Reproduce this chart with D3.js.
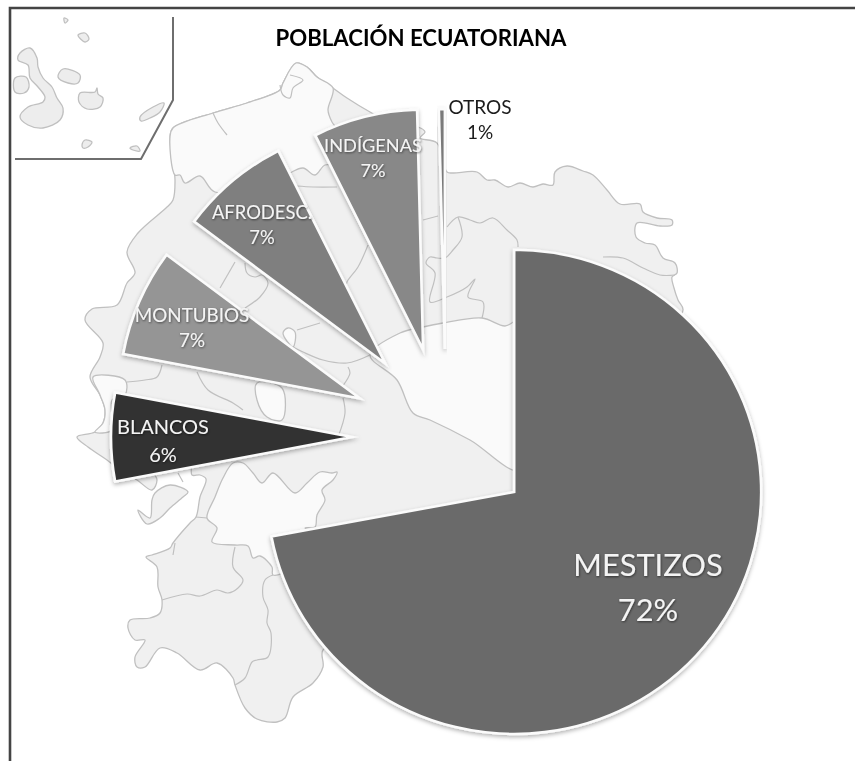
<!DOCTYPE html>
<html><head><meta charset="utf-8">
<script src="https://cdn.jsdelivr.net/npm/d3@7/dist/d3.min.js"></script>
<style>html,body{margin:0;padding:0;background:#fff}svg{display:block}text{font-family:Lato,"Open Sans",sans-serif}</style>
</head><body><svg id="c" width="855" height="761"></svg>
<script>
// ---- chart data ----
const categories = ["MESTIZOS","BLANCOS","MONTUBIOS","AFRODESC.","INDÍGENAS","OTROS"];
const shares     = [71.9, 5.9, 7.2, 7.4, 7.0, 0.4];   // slice sizes as drawn
const percentLabels = ["72%","6%","7%","7%","7%","1%"];
const sliceColors = ["#6b6b6b","#333333","#959595","#7f7f7f","#888888","#7a7a7a"];
const titleText = "POBLACIÓN ECUATORIANA";

// ---- layout of the exploded pie ----
const pieCenter = [448,437];
const explode = [86,96,96,96,90,88];
const nudgeX  = [0,0,0,-1,-3,-2];
const radii   = [247,241,241,238,240,240];
const labelAnchors = [[648,565,610,30.8],[163,427,455,20],[192,315,340,18.8],[262,213,238,18.4],[373,146,171,18.2],[480,107,132,19]];

// ---- backdrop map outlines ----
const mainland=[[296,63],[307,67],[317,77],[333,88],[347,98],[370,112],[395,125],[418,127],[425,132],[420,138],[437,143],[447,172],[453,173],[477,172],[487,180],[495,180],[508,187],[520,183],[533,187],[543,184],[553,185],[555,172],[567,166],[583,171],[593,175],[607,190],[620,204],[640,204],[643,212],[657,218],[672,220],[672,225],[660,226],[637,223],[636,237],[645,243],[655,245],[663,258],[675,263],[677,273],[672,277],[674,288],[678,300],[683,310],[660,340],[600,400],[500,600],[360,640],[323,650],[323,667],[313,683],[293,697],[285,718],[277,722],[257,719],[245,708],[235,685],[233,678],[217,663],[200,670],[177,653],[160,648],[145,667],[137,667],[135,657],[145,640],[135,640],[128,628],[130,620],[150,618],[160,613],[162,600],[158,587],[157,567],[146,557],[152,555],[170,548],[173,543],[190,523],[196,517],[200,497],[206,479],[200,475],[192,475],[190,460],[150,465],[157,480],[152,490],[137,480],[120,470],[107,460],[88,447],[77,437],[95,432],[103,423],[105,410],[100,395],[90,377],[100,357],[103,343],[85,320],[92,309],[117,305],[127,283],[135,273],[127,252],[138,233],[167,207],[173,200],[175,180],[170,137],[173,128],[213,113],[247,103],[280,90],[283,83]];
const lightNorth=[[170,137],[173,128],[213,113],[247,103],[280,90],[283,83],[296,63],[307,67],[317,77],[333,88],[328,110],[332,122],[345,140],[340,165],[325,165],[315,175],[303,168],[290,173],[270,185],[215,192],[200,176],[185,183],[180,175],[175,175]];
const lightCentre=[[370,355],[400,333],[423,327],[443,323],[482,318],[505,326],[520,320],[520,470],[470,440],[430,420],[413,413],[397,380]];
const lightSouth=[[233,463],[243,463],[253,473],[262,483],[273,473],[295,493],[307,483],[320,472],[332,473],[337,472],[333,480],[322,490],[325,500],[317,515],[315,527],[305,528],[330,540],[300,565],[273,575],[272,567],[260,556],[253,558],[248,546],[235,545],[212,542],[217,528],[207,518],[215,497],[223,478]];
const lightWest=[[93,377],[125,380],[125,395],[112,400],[112,430],[95,432],[103,423],[105,410],[100,395]];
const lightPatch=[[257,383],[282,388],[282,420],[267,417],[257,400]];
const lightPatch2=[[283,333],[288,328],[295,332],[293,347]];
const punaIsland=[[188,492],[170,485],[155,493],[152,500],[150,518],[138,510],[147,524],[160,518],[170,508],[183,497]];
const borderLines=[
 [[213,113],[218,123],[227,135]],
 [[297,186],[313,187],[337,187]],
 [[368,245],[358,267],[347,282],[345,290]],
 [[220,288],[235,262]],
 [[245,263],[247,273],[255,277],[262,275],[268,283],[260,297],[245,308]],
 [[297,330],[320,323]],
 [[293,347],[303,352],[323,360],[347,363],[370,355]],
 [[348,367],[350,373],[342,387]],
 [[162,365],[157,377],[145,380],[127,382]],
 [[197,372],[208,390],[233,403],[243,410]],
 [[343,398],[345,413],[338,437]],
 [[423,220],[438,216]],
 [[447,227],[458,217],[470,220],[480,223],[493,218],[507,230],[517,240],[518,247]],
 [[458,217],[462,237],[453,250],[445,258],[437,258],[430,257],[426,263],[435,273],[430,302],[447,297],[467,287],[475,279],[468,297],[483,302],[482,318]],
 [[603,257],[623,258],[643,268],[660,275],[675,275]],
 [[196,517],[207,518]],
 [[235,547],[233,567],[243,580],[238,588],[228,593],[217,590],[200,596],[187,594],[162,600]],
 [[273,575],[265,580],[263,597],[268,610],[267,623],[271,633],[268,657],[257,660],[252,662],[245,678],[235,685]],
 [[280,85],[283,95],[290,98],[293,88],[303,80],[290,75]],
 [[175,543],[173,555]],
 [[178,473],[183,482]]
];
const islands=[
 [[30,48],[37,58],[38,67],[43,78],[52,87],[57,98],[63,108],[60,120],[43,128],[28,125],[20,117],[28,107],[43,102],[45,97],[38,87],[30,78],[28,65],[18,60],[20,53]],
 [[15,78],[26,77],[29,87],[24,93],[15,92]],
 [[63,69],[80,75],[78,83],[68,83],[58,77]],
 [[80,93],[95,92],[97,88],[98,94],[103,98],[100,107],[87,109],[79,102]],
 [[140,117],[153,107],[164,103],[160,112],[150,118],[141,121]],
 [[82,145],[85,140],[92,142],[88,147],[83,148]],
 [[130,148],[137,146],[140,151],[133,150]],
 [[64,18],[68,20],[65,23]],
 [[78,35],[85,33],[89,39],[85,42]]
];
const insetFrame=[[173,17],[173,100],[141,159],[15,159]];
const mapLine="#c0c0c0";

const svg=d3.select("#c");
const defs=svg.append("defs");
const soft=defs.append("filter").attr("id","soft");
soft.append("feGaussianBlur").attr("stdDeviation",0.5);
const faint=defs.append("filter").attr("id","faint");
faint.append("feGaussianBlur").attr("stdDeviation",0.3);
const shadow=defs.append("filter").attr("id","shadow").attr("x","-20%").attr("y","-20%").attr("width","140%").attr("height","140%");
shadow.append("feDropShadow").attr("dx",0).attr("dy",2).attr("stdDeviation",2).attr("flood-color","#000").attr("flood-opacity",0.3);
const tshadow=defs.append("filter").attr("id","tshadow").attr("x","-20%").attr("y","-30%").attr("width","140%").attr("height","160%");
tshadow.append("feDropShadow").attr("dx",0.6).attr("dy",1).attr("stdDeviation",1).attr("flood-color","#000").attr("flood-opacity",0.55);

// page frame
svg.append("path").attr("d",d3.line()([[10,761],[10,8],[855,8]])).attr("fill","none").attr("stroke","#444").attr("stroke-width",2.6);

// map
const closed=d3.line().curve(d3.curveCatmullRomClosed.alpha(0.5));
const open=d3.line().curve(d3.curveCatmullRom.alpha(0.5));
const map=svg.append("g").attr("filter","url(#soft)").attr("stroke-linejoin","round");
const drawArea=(pts,fill)=>map.append("path").attr("d",closed(pts)).attr("fill",fill).attr("stroke",mapLine).attr("stroke-width",1.3);
drawArea(mainland,"#f0f0f0");
[lightNorth,lightCentre,lightSouth,lightWest,lightPatch,lightPatch2].forEach(p=>drawArea(p,"#fafafa"));
drawArea(punaIsland,"#f0f0f0");
borderLines.forEach(p=>map.append("path").attr("d",open(p)).attr("fill","none").attr("stroke",mapLine).attr("stroke-width",1.2));
islands.forEach(p=>drawArea(p,"#ededed"));
map.append("path").attr("d",d3.line()(insetFrame)).attr("fill","none").attr("stroke","#6e6e6e").attr("stroke-width",2);

// pie
const pie=d3.pie().sort(null).value(d=>d)(shares);
const slices=svg.selectAll("g.slice").data(pie).join("g").attr("class","slice")
 .attr("filter","url(#shadow)")
 .attr("transform",(d,i)=>{
   const a=(d.startAngle+d.endAngle)/2;
   const x=pieCenter[0]+Math.sin(a)*explode[i]+nudgeX[i], y=pieCenter[1]-Math.cos(a)*explode[i];
   return `translate(${x},${y})`+(i===0?" scale(1,0.98)":"");
 });
slices.append("path")
 .attr("d",(d,i)=>d3.arc().innerRadius(0).outerRadius(radii[i])(d))
 .attr("fill",(d,i)=>sliceColors[i])
 .attr("stroke","#fbfbfb").attr("stroke-width",2.6).attr("stroke-linejoin","miter").attr("stroke-miterlimit",20);

// labels
const labels=svg.append("g").attr("text-anchor","middle");
categories.forEach((c,i)=>{
  const [x,y1,y2,fs]=labelAnchors[i];
  const dark=i===5;
  const g=labels.append("g").attr("fill",dark?"#1a1a1a":"#f4f4f4").attr("font-size",fs).attr("filter",dark?"url(#faint)":"url(#tshadow)");
  g.append("text").attr("x",x).attr("y",y1).attr("dy","0.35em").text(c);
  g.append("text").attr("x",x).attr("y",y2).attr("dy","0.35em").text(percentLabels[i]);
});
svg.append("text").attr("x",421).attr("y",38).attr("dy","0.35em").attr("text-anchor","middle")
 .attr("font-size",22.2).attr("font-weight",700).attr("fill","#000").attr("filter","url(#faint)").text(titleText);
</script></body></html>
